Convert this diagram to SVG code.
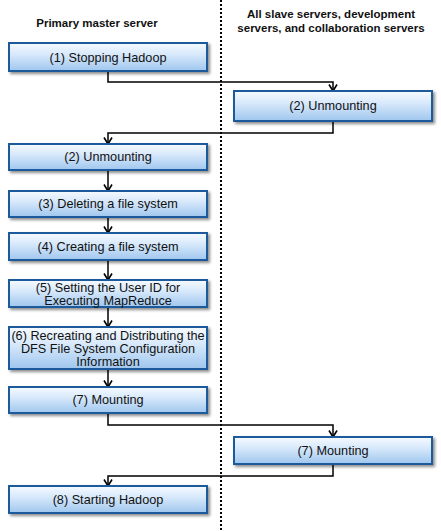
<svg xmlns="http://www.w3.org/2000/svg" width="441" height="531" viewBox="0 0 441 531">
<style>
.box{fill:url(#g);stroke:#1c5a9c;stroke-width:2;filter:url(#sh)}
.t{font-family:"Liberation Sans",Arial,sans-serif;font-size:12.7px;fill:#111;text-anchor:middle}
.h{font-family:"Liberation Sans",Arial,sans-serif;font-size:11.5px;font-weight:bold;fill:#111;text-anchor:middle}
.c{fill:none;stroke:#000;stroke-width:1.5;marker-end:url(#a)}
</style>
<defs>
<linearGradient id="g" x1="0" y1="0" x2="0" y2="1">
<stop offset="0" stop-color="#f6faff"/>
<stop offset="0.4" stop-color="#d8e9fb"/>
<stop offset="1" stop-color="#9fc6ee"/>
</linearGradient>
<filter id="sh" x="-10%" y="-30%" width="130%" height="180%">
<feDropShadow dx="2" dy="2" stdDeviation="1.5" flood-color="#000" flood-opacity="0.45"/>
</filter>
<marker id="a" viewBox="0 0 10 10" refX="8" refY="5" markerWidth="10" markerHeight="10" markerUnits="userSpaceOnUse" orient="auto">
<path d="M1.5,1 L8,5 L1.5,9" fill="none" stroke="#000" stroke-width="1.6"/>
</marker>
</defs>
<rect width="441" height="531" fill="#fff"/>
<line x1="221" y1="0" x2="221" y2="531" stroke="#000" stroke-width="2" stroke-dasharray="2 2"/>
<text class="h" x="97" y="27">Primary master server</text>
<text class="h" x="331" y="18">All slave servers,  development</text>
<text class="h" x="331" y="32">servers, and collaboration servers</text>
<g id="connectors">
<path class="c" d="M108,71 V82 H333 V91"/>
<path class="c" d="M333,121 V133 H108 V144"/>
<path class="c" d="M108,170 V191"/>
<path class="c" d="M108,217 V233"/>
<path class="c" d="M108,260 V280"/>
<path class="c" d="M108,307 V327"/>
<path class="c" d="M108,369 V387"/>
<path class="c" d="M108,413 V425 H333 V437"/>
<path class="c" d="M333,464 V476 H108 V486"/>
</g>
<g id="n1"><rect class="box" x="9" y="43" width="198" height="28"/><text class="t" x="108" y="62">(1) Stopping Hadoop</text></g>
<g id="n2r"><rect class="box" x="234" y="91" width="198" height="30"/><text class="t" x="333" y="110">(2) Unmounting</text></g>
<g id="n2l"><rect class="box" x="9" y="144" width="198" height="26"/><text class="t" x="108" y="161">(2) Unmounting</text></g>
<g id="n3"><rect class="box" x="9" y="191" width="198" height="26"/><text class="t" x="108" y="208">(3) Deleting a file system</text></g>
<g id="n4"><rect class="box" x="9" y="233" width="198" height="27"/><text class="t" x="108" y="251">(4) Creating a file system</text></g>
<g id="n5"><rect class="box" x="9" y="280" width="198" height="27"/><text class="t" x="108" y="292">(5) Setting the User ID for</text><text class="t" x="108" y="305">Executing MapReduce</text></g>
<g id="n6"><rect class="box" x="9" y="327" width="198" height="42"/><text class="t" x="108" y="340">(6) Recreating and Distributing the</text><text class="t" x="108" y="353">DFS File System Configuration</text><text class="t" x="108" y="366">Information</text></g>
<g id="n7l"><rect class="box" x="9" y="387" width="198" height="26"/><text class="t" x="108" y="404">(7) Mounting</text></g>
<g id="n7r"><rect class="box" x="234" y="437" width="198" height="27"/><text class="t" x="333" y="455">(7) Mounting</text></g>
<g id="n8"><rect class="box" x="9" y="486" width="198" height="27"/><text class="t" x="108" y="504">(8) Starting Hadoop</text></g>
</svg>
